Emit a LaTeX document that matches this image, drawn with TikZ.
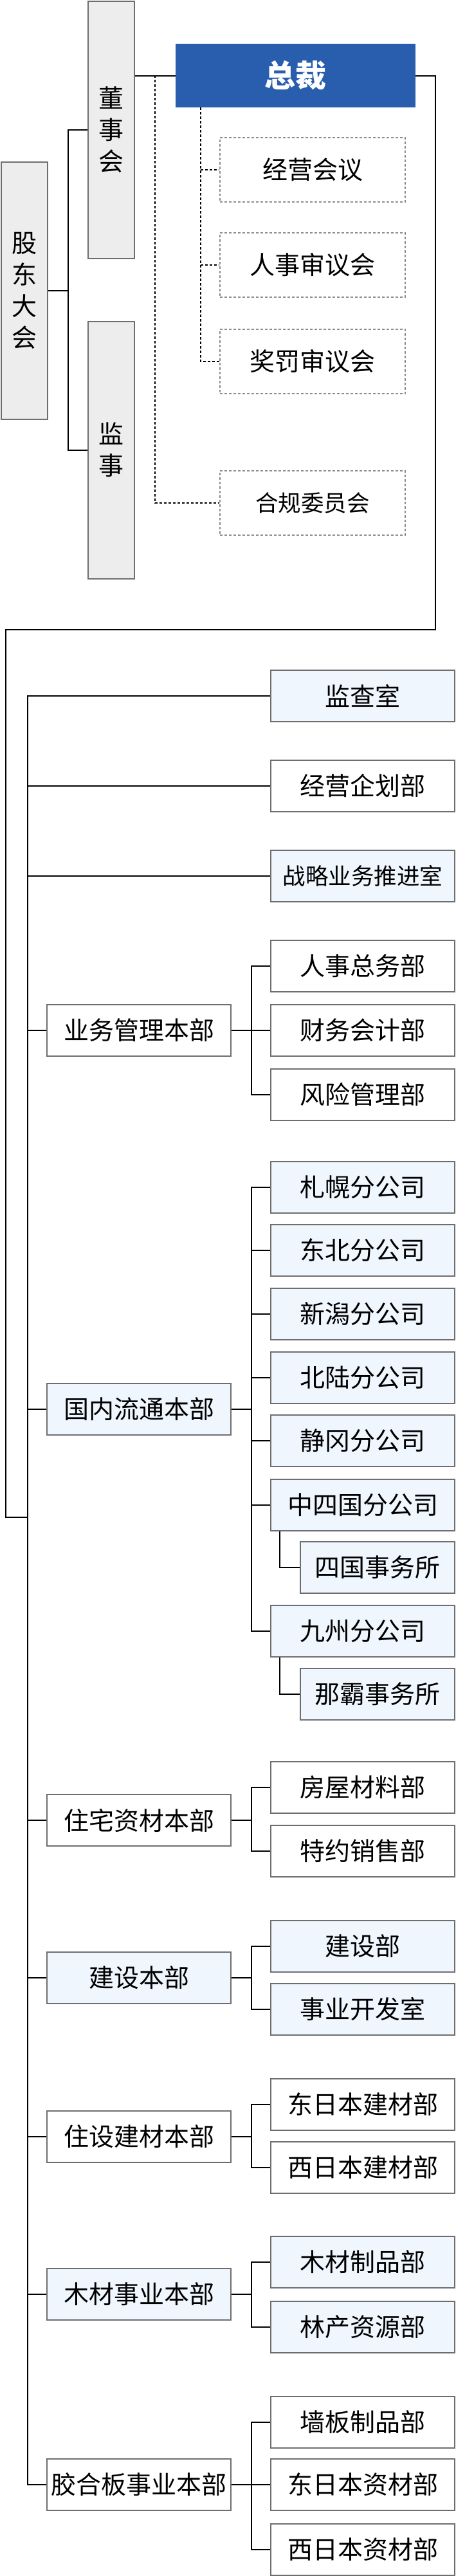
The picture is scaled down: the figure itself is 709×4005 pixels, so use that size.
\documentclass[tikz,border=0pt]{standalone}
\usepackage{fontspec}
\usepackage{tikz}
\newfontfamily\cjk{Noto Sans CJK SC}
\definecolor{ceoblue}{HTML}{285EAD}
\definecolor{edgegray}{HTML}{6E6E6E}
\definecolor{govfill}{HTML}{EDEDED}
\definecolor{paleblue}{HTML}{EFF6FE}
\definecolor{mtggray}{HTML}{8C8C8C}

\begin{document}
\begin{tikzpicture}[x=1pt, y=-1pt,
    every node/.style={inner sep=0pt, font=\cjk\fontsize{39}{39}\selectfont},
    gov/.style={draw=edgegray, line width=2pt, fill=govfill, minimum width=72pt, minimum height=400pt, align=center, font=\cjk\fontsize{39}{49}\selectfont},
    ceo/.style={fill=ceoblue, text=white, minimum width=373pt, minimum height=99pt, font=\cjk\bfseries\fontsize{48}{48}\selectfont},
    mtg/.style={draw=mtggray, line width=2pt, dash pattern=on 4pt off 3pt, minimum width=288pt, minimum height=100pt},
    dept/.style={draw=edgegray, line width=2pt, fill=white, minimum width=286pt, minimum height=80pt},
    deptblue/.style={dept, fill=paleblue},
    office/.style={deptblue, minimum width=240pt},
    small/.style={font=\cjk\fontsize{35.5}{36}\selectfont},
    link/.style={line width=2pt},
    dlink/.style={line width=2pt, dash pattern=on 4pt off 3pt}]
    \useasboundingbox (0,0) rectangle (709,4005);

    % Governance - shareholders, board, auditors
    \node[gov] (share) at (38,452) {股\\东\\大\\会};
    \node[gov] (board) at (173,202) {董\\事\\会};
    \node[gov] (audit) at (173,699.5) {监\\事};

    % President
    \node[ceo] (pres) at (459.5,117.5) {总裁};

    % Meetings and committees (dotted)
    \node[mtg] (mgmt) at (486,264) {经营会议};
    \node[mtg] (hrmtg) at (486,412) {人事审议会};
    \node[mtg] (award) at (486,562) {奖罚审议会};
    \node[mtg, small] (comply) at (486,782) {合规委员会};

    % Staff offices
    \node[deptblue] (inspect) at (564,1082) {监查室};
    \node[dept] (plan) at (564,1222) {经营企划部};
    \node[deptblue, small] (strat) at (564,1362) {战略业务推进室};

    % Business administration HQ
    \node[dept] (admin) at (216,1602) {业务管理本部};
    \node[dept] (hr) at (564,1502) {人事总务部};
    \node[dept] (acct) at (564,1602) {财务会计部};
    \node[dept] (risk) at (564,1702) {风险管理部};

    % Domestic distribution HQ
    \node[deptblue] (domestic) at (216,2191) {国内流通本部};
    \node[deptblue] (sapporo) at (564,1846) {札幌分公司};
    \node[deptblue] (tohoku) at (564,1944) {东北分公司};
    \node[deptblue] (niigata) at (564,2043) {新潟分公司};
    \node[deptblue] (hokuriku) at (564,2142) {北陆分公司};
    \node[deptblue] (shizuoka) at (564,2240) {静冈分公司};
    \node[deptblue] (chushi) at (564,2340) {中四国分公司};
    \node[office] (shikoku) at (587,2437) {四国事务所};
    \node[deptblue] (kyushu) at (564,2536) {九州分公司};
    \node[office] (naha) at (587,2634) {那霸事务所};

    % Housing materials HQ
    \node[dept] (housing) at (216,2830) {住宅资材本部};
    \node[dept] (homemat) at (564,2779) {房屋材料部};
    \node[dept] (dealer) at (564,2878) {特约销售部};

    % Construction HQ
    \node[deptblue] (build) at (216,3075) {建设本部};
    \node[deptblue] (builddep) at (564,3026) {建设部};
    \node[deptblue] (devroom) at (564,3124) {事业开发室};

    % Housing equipment and building materials HQ
    \node[dept] (equip) at (216,3322) {住设建材本部};
    \node[dept] (eastbm) at (564,3272) {东日本建材部};
    \node[dept] (westbm) at (564,3370) {西日本建材部};

    % Timber HQ
    \node[deptblue] (timber) at (216,3567) {木材事业本部};
    \node[deptblue] (woodprod) at (564,3517) {木材制品部};
    \node[deptblue] (forest) at (564,3618) {林产资源部};

    % Plywood HQ
    \node[dept] (plywood) at (216,3863) {胶合板事业本部};
    \node[dept] (panel) at (564,3766) {墙板制品部};
    \node[dept] (eastmat) at (564,3863) {东日本资材部};
    \node[dept] (westmat) at (564,3964) {西日本资材部};

    % Turning points of the connectors
    \coordinate (govfork) at (106,0);
    \coordinate (mtgtop) at (241,117);
    \coordinate (mtgfork) at (312,0);
    \coordinate (turnR) at (677,979);
    \coordinate (turnL) at (9,979);
    \coordinate (spine) at (43,0);
    \coordinate (join) at (43,2359);
    \coordinate (sub) at (391,0);
    \coordinate (subsub) at (435,0);

    % Connections - governance
    \draw[link] (share.east) -- (govfork |- share.east);
    \draw[link] (board.west) -- (govfork |- board.west) -- (govfork |- audit.west) -- (audit.west);
    \draw[link] (board.east |- pres.west) -- (pres.west);
    \draw[dlink] (mtgtop) |- (comply.west);
    \draw[dlink] (mtgfork |- pres.south) |- (award.west);
    \draw[dlink] (mtgfork |- mgmt.west) -- (mgmt.west);
    \draw[dlink] (mtgfork |- hrmtg.west) -- (hrmtg.west);
    \draw[link] (pres.east) -| (turnR) -- (turnL) |- (join);

    % Connections - main spine
    \draw[link] (inspect.west) -| (spine |- plywood.west) -- (plywood.west);
    \draw[link] (spine |- plan.west) -- (plan.west);
    \draw[link] (spine |- strat.west) -- (strat.west);
    \draw[link] (spine |- admin.west) -- (admin.west);
    \draw[link] (spine |- domestic.west) -- (domestic.west);
    \draw[link] (spine |- housing.west) -- (housing.west);
    \draw[link] (spine |- build.west) -- (build.west);
    \draw[link] (spine |- equip.west) -- (equip.west);
    \draw[link] (spine |- timber.west) -- (timber.west);

    % Connections - departments
    \draw[link] (admin.east) -- (sub |- admin.east);
    \draw[link] (hr.west) -- (sub |- hr.west) -- (sub |- risk.west) -- (risk.west);
    \draw[link] (sub |- acct.west) -- (acct.west);

    \draw[link] (domestic.east) -- (sub |- domestic.east);
    \draw[link] (sapporo.west) -- (sub |- sapporo.west) -- (sub |- kyushu.west) -- (kyushu.west);
    \draw[link] (sub |- tohoku.west) -- (tohoku.west);
    \draw[link] (sub |- niigata.west) -- (niigata.west);
    \draw[link] (sub |- hokuriku.west) -- (hokuriku.west);
    \draw[link] (sub |- shizuoka.west) -- (shizuoka.west);
    \draw[link] (sub |- chushi.west) -- (chushi.west);
    \draw[link] (subsub |- chushi.south) |- (shikoku.west);
    \draw[link] (subsub |- kyushu.south) |- (naha.west);

    \draw[link] (housing.east) -- (sub |- housing.east);
    \draw[link] (homemat.west) -- (sub |- homemat.west) -- (sub |- dealer.west) -- (dealer.west);

    \draw[link] (build.east) -- (sub |- build.east);
    \draw[link] (builddep.west) -- (sub |- builddep.west) -- (sub |- devroom.west) -- (devroom.west);

    \draw[link] (equip.east) -- (sub |- equip.east);
    \draw[link] (eastbm.west) -- (sub |- eastbm.west) -- (sub |- westbm.west) -- (westbm.west);

    \draw[link] (timber.east) -- (sub |- timber.east);
    \draw[link] (woodprod.west) -- (sub |- woodprod.west) -- (sub |- forest.west) -- (forest.west);

    \draw[link] (plywood.east) -- (sub |- plywood.east);
    \draw[link] (panel.west) -- (sub |- panel.west) -- (sub |- westmat.west) -- (westmat.west);
    \draw[link] (sub |- eastmat.west) -- (eastmat.west);
\end{tikzpicture}
\end{document}
